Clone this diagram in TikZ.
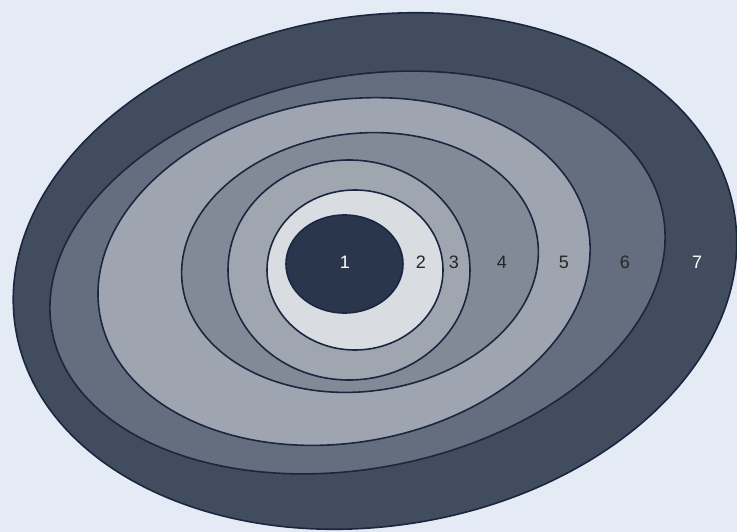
\documentclass[tikz,border=0pt]{standalone}
\usepackage{fontspec}
\setmainfont{Liberation Sans}
\usepackage{xcolor}
\usepackage{tikz}

\definecolor{bgblue}{HTML}{E4EBF5}
\definecolor{ringline}{HTML}{1B2740}
\definecolor{shadeA}{HTML}{29364B}
\definecolor{shadeB}{HTML}{D9DCE1}
\definecolor{shadeC}{HTML}{A0A6B0}
\definecolor{shadeD}{HTML}{838A97}
\definecolor{shadeE}{HTML}{9FA5B0}
\definecolor{shadeF}{HTML}{646E7F}
\definecolor{shadeG}{HTML}{414C5F}
\definecolor{numdark}{HTML}{262626}

\tikzset{
  ring/.style={draw=ringline, line width=1.6pt},
  num/.style={font=\fontsize{18}{21}\selectfont, text=numdark, inner sep=1pt},
  numlight/.style={num, text=white}
}

\begin{document}
\begin{tikzpicture}[x=1pt, y=-1pt]
  % --- 1. Background ---
  \fill[bgblue] (0,0) rectangle (737,532);
  \useasboundingbox (0,0) rectangle (737,532);

  % --- 2. Centres of the rings ---
  \coordinate (c7) at (375,271);
  \coordinate (c6) at (357.5,272.5);
  \coordinate (c5) at (344,271.5);
  \coordinate (c4) at (360,262.5);
  \coordinate (c3) at (349,270);
  \coordinate (c2) at (355,270);
  \coordinate (c1) at (344.5,264);

  % --- 3. Rings, outside in ---
  \draw[ring, fill=shadeG, rotate around={9:(c7)}] (c7) ellipse (364 and 255);
  \draw[ring, fill=shadeF, rotate around={11:(c6)}] (c6) ellipse (311 and 196);
  \draw[ring, fill=shadeE, rotate around={10:(c5)}] (c5) ellipse (248 and 171);
  \draw[ring, fill=shadeD, rotate around={7:(c4)}] (c4) ellipse (179 and 129);
  \draw[ring, fill=shadeC] (c3) ellipse (121 and 110);
  \draw[ring, fill=shadeB] (c2) ellipse (88 and 80);
  \draw[ring, fill=shadeA] (c1) ellipse (58.5 and 49);

  % --- 4. Numbers ---
  \node[numlight] (n1) at (345,262) {1};
  \node[num] (n2) at (421,262) {2};
  \node[num] (n3) at (454,262) {3};
  \node[num] (n4) at (502,262) {4};
  \node[num] (n5) at (564,262) {5};
  \node[num] (n6) at (625,262) {6};
  \node[numlight] (n7) at (697,262) {7};

\end{tikzpicture}
\end{document}
